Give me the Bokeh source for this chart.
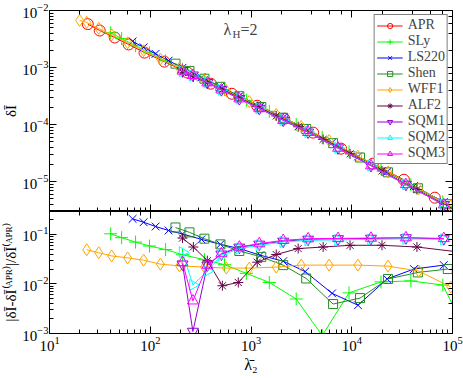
import numpy as np
from bokeh.plotting import figure
from bokeh.layouts import column
from bokeh.models import LogAxis, Legend, LegendItem, Label, CustomJSTickFormatter
from bokeh.embed import file_html
from bokeh.resources import INLINE

# ---------------- data ----------------
apr_lam = [24, 31.5, 44.4, 61.0, 87.7, 138, 234, 398, 646, 1150, 2140, 4140, 7830, 16200, 32900, 66700]
apr_dI = [5.78e-3, 4.46e-3, 3.36e-3, 2.54e-3, 1.83e-3, 1.27e-3, 8.17e-4, 5.22e-4, 3.47e-4, 2.14e-4,
          1.27e-4, 7.24e-5, 3.79e-5, 2.07e-5, 1.08e-5, 5.24e-6]

sly_lam = [40.5, 52.0, 71.5, 98.4, 142, 209, 345, 545, 900, 1520, 2810, 5090, 9400, 19500, 38600, 80100, 120800]
sly_dI = [4.06e-3, 3.22e-3, 2.41e-3, 1.81e-3, 1.31e-3, 9.35e-4, 6.07e-4, 4.11e-4, 2.67e-4, 1.71e-4,
          1.01e-4, 5.96e-5, 3.36e-5, 1.69e-5, 8.87e-6, 4.43e-6, 2.96e-6]
sly_rel = [0.103, 0.086, 0.070, 0.0583, 0.0494, 0.0389, 0.0309, 0.0245, 0.0164, 0.0107,
           0.00497, 0.00091, 0.0066, 0.011, 0.0115, 0.0095, 0.0018]

ls220_lam = [66.8, 85.9, 113, 152, 209, 322, 497, 766, 1236, 2088, 3450, 6380, 11540, 22400, 41400, 82000]
ls220_dI = [2.88e-3, 2.26e-3, 1.74e-3, 1.32e-3, 9.91e-4, 6.73e-4, 4.61e-4, 3.16e-4, 2.08e-4, 1.33e-4,
            8.61e-5, 4.84e-5, 2.76e-5, 1.49e-5, 8.39e-6, 4.40e-6]
ls220_rel = [0.206, 0.176, 0.1445, 0.120, 0.102, 0.0794, 0.0631, 0.0518, 0.038, 0.0288,
             0.0178, 0.00646, 0.00372, 0.0126, 0.020, 0.024]

shen_lam = [178, 245, 345, 497, 766, 1265, 2088, 3530, 6530, 12080, 22870, 45300, 89800]
shen_dI = [1.17e-3, 8.73e-4, 6.37e-4, 4.60e-4, 3.15e-4, 2.04e-4, 1.32e-4, 8.39e-5, 4.73e-5, 2.65e-5,
           1.46e-5, 7.68e-6, 4.02e-6]
shen_rel = [0.138, 0.110, 0.082, 0.063, 0.0463, 0.0352, 0.024, 0.0129, 0.00393, 0.00518,
            0.0126, 0.0171, 0.020]

wff1_lam = [19.9, 23.4, 30.8, 41.4, 59.6, 85.9, 126, 195, 345, 569, 962, 1780, 3150, 5960, 11500, 22900, 46300, 96100]
wff1_dI = [6.7e-3, 6.19e-3, 4.86e-3, 3.74e-3, 2.72e-3, 1.98e-3, 1.41e-3, 9.75e-4, 6.01e-4, 3.94e-4,
           2.54e-4, 1.51e-4, 9.34e-5, 5.26e-5, 2.81e-5, 1.48e-5, 7.53e-6, 3.72e-6]
wff1_rel_lam = [23.4, 30.8, 41.4, 59.6, 85.9, 126, 195, 345, 569, 962, 1780, 3150, 5960, 11500, 22900, 46300, 96100]
wff1_rel = [0.049, 0.0427, 0.0368, 0.0336, 0.0302, 0.0251, 0.0232, 0.0219, 0.0209, 0.0209,
            0.0219, 0.024, 0.024, 0.024, 0.0229, 0.0182, 0.0087]

alf2_lam = [209, 268, 369, 520, 748, 1153, 1780, 2940, 5200, 9620, 19950, 44360, 120800]
alf2_dI = [8.24e-4, 6.87e-4, 5.41e-4, 4.13e-4, 3.03e-4, 2.07e-4, 1.42e-4, 9.18e-5, 5.51e-5, 3.07e-5,
           1.54e-5, 7.28e-6, 2.83e-6]
alf2_rel = [0.0843, 0.0557, 0.0295, 0.0092, 0.0107, 0.0275, 0.0393, 0.0518, 0.0557, 0.0603,
            0.0603, 0.0557, 0.0437]

sqm_lam = [209, 265, 369, 508, 766, 1208, 2088, 3690, 7310, 15520, 34500, 82000]
sqm1_dI = [8.77e-4, 7.35e-4, 5.44e-4, 4.07e-4, 2.84e-4, 1.92e-4, 1.19e-4, 7.35e-5, 3.89e-5, 1.91e-5, 8.93e-6, 3.94e-6]
sqm1_rel = [0.0251, 0.0011, 0.024, 0.0398, 0.055, 0.0631, 0.0724, 0.0794, 0.0813, 0.083, 0.085, 0.0813]
sqm2_dI = [8.61e-4, 7.28e-4, 5.47e-4, 4.08e-4, 2.85e-4, 1.92e-4, 1.20e-4, 7.38e-5, 3.91e-5, 1.91e-5, 8.97e-6, 3.95e-6]
sqm2_rel = [0.0437, 0.00955, 0.0182, 0.038, 0.0518, 0.0603, 0.0702, 0.0759, 0.0776, 0.0794, 0.0813, 0.0794]
sqm3_dI = [8.75e-4, 7.31e-4, 5.44e-4, 4.07e-4, 2.84e-4, 1.91e-4, 1.19e-4, 7.33e-5, 3.88e-5, 1.91e-5, 8.93e-6, 3.94e-6]
sqm3_rel = [0.0272, 0.00457, 0.024, 0.0411, 0.0557, 0.0652, 0.0759, 0.082, 0.083, 0.0843, 0.0859, 0.083]

FONT = "Liberation Serif"
Y1_LABEL = "δĪ"
Y2_LABEL = "|δĪ-δĪ\u207d\u1d2c\u1d3e\u1d3f\u207e|/δĪ\u207d\u1d2c\u1d3e\u1d3f\u207e"
X_LABEL = "λ\u0304\u2082"

series = [
    ("APR", "#ff0000", "circle", 11, 0, apr_lam, apr_dI, None, None),
    ("SLy", "#00ff00", "cross", 13, 0, sly_lam, sly_dI, sly_lam, sly_rel),
    ("LS220", "#0000ff", "x", 11, 0, ls220_lam, ls220_dI, ls220_lam, ls220_rel),
    ("Shen", "#1f8f1f", "square", 9, 0, shen_lam, shen_dI, shen_lam, shen_rel),
    ("WFF1", "#ffa500", "diamond", 12, 0, wff1_lam, wff1_dI, wff1_rel_lam, wff1_rel),
    ("ALF2", "#670748", "asterisk", 10, 0, alf2_lam, alf2_dI, alf2_lam, alf2_rel),
    ("SQM1", "#9400d3", "inverted_triangle", 11, 0, sqm_lam, sqm1_dI, sqm_lam, sqm1_rel),
    ("SQM2", "#00ffff", "triangle", 11, -np.pi / 2, sqm_lam, sqm2_dI, sqm_lam, sqm2_rel),
    ("SQM3", "#ff00ff", "triangle", 11, 0, sqm_lam, sqm3_dI, sqm_lam, sqm3_rel),
]


def style_axis(ax, labels):
    ax.major_tick_in = 7
    ax.major_tick_out = 0
    ax.minor_tick_in = 4
    ax.minor_tick_out = 0
    ax.axis_line_color = "black"
    ax.major_tick_line_color = "black"
    ax.minor_tick_line_color = "black"
    ax.major_label_text_font = FONT
    ax.major_label_text_color = "black"
    ax.major_label_text_font_size = "15px"
    ax.axis_label_text_font = FONT
    ax.axis_label_text_font_style = "normal"
    ax.axis_label_text_color = "black"
    if labels:
        ax.major_label_standoff = 1
    else:
        ax.formatter = CustomJSTickFormatter(code="return ''")
        ax.major_label_standoff = 0


W = 463
p1 = figure(width=W, height=211, x_axis_type="log", y_axis_type="log",
            x_range=(10, 1e5), y_range=(3e-6, 1e-2),
            toolbar_location=None, output_backend="svg",
            min_border_left=48, min_border_right=11, min_border_top=10, min_border_bottom=0)
p2 = figure(width=W, height=165, x_axis_type="log", y_axis_type="log",
            x_range=p1.x_range, y_range=(1e-3, 0.29),
            toolbar_location=None, output_backend="svg",
            min_border_left=48, min_border_right=11, min_border_top=0, min_border_bottom=43)

for p in (p1, p2):
    p.grid.visible = False
    p.outline_line_color = "black"
    p.background_fill_color = "white"
    p.border_fill_color = "white"
    p.add_layout(LogAxis(), "above")
    p.add_layout(LogAxis(), "right")

for ax in p1.above + p1.below + p1.right:
    style_axis(ax, False)
style_axis(p1.left[0], True)
p1.left[0].axis_label = Y1_LABEL
p1.left[0].axis_label_text_font_size = "15px"
p1.left[0].axis_label_standoff = 0

for ax in p2.above + p2.right:
    style_axis(ax, False)
style_axis(p2.left[0], True)
p2.left[0].axis_label = Y2_LABEL
p2.left[0].axis_label_text_font_size = "15px"
p2.left[0].axis_label_standoff = 0
style_axis(p2.below[0], True)
p2.below[0].major_label_standoff = 3
p2.below[0].axis_label = X_LABEL
p2.below[0].axis_label_text_font_size = "16px"
p2.below[0].axis_label_standoff = 2

items = []
for name, col, mk, sz, ang, lam, dI, rlam, rel in series:
    lr = p1.line(lam, dI, line_color=col, line_width=1)
    sr = p1.scatter(lam, dI, marker=mk, size=sz, angle=ang, line_color=col,
                    fill_color=None, line_width=1)
    items.append(LegendItem(label=name, renderers=[lr, sr]))
    if rel is not None:
        p2.line(rlam, rel, line_color=col, line_width=1)
        p2.scatter(rlam, rel, marker=mk, size=sz, angle=ang, line_color=col,
                   fill_color=None, line_width=1)

legend = Legend(items=items, location="top_right")
legend.label_text_font = FONT
legend.label_text_font_size = "14px"
legend.label_height = 13
legend.glyph_height = 13
legend.glyph_width = 26
legend.label_standoff = 5
legend.spacing = -2
legend.padding = 2
legend.margin = 4
legend.border_line_color = "black"
legend.border_line_width = 1
legend.background_fill_alpha = 1
p1.add_layout(legend, "center")

p1.add_layout(Label(x=174, y=182, x_units="screen", y_units="screen", text="λ",
                    text_font=FONT, text_font_size="16px", text_baseline="alphabetic"))
p1.add_layout(Label(x=183, y=178, x_units="screen", y_units="screen", text="H",
                    text_font=FONT, text_font_size="11px", text_baseline="alphabetic"))
p1.add_layout(Label(x=191, y=182, x_units="screen", y_units="screen", text="=2",
                    text_font=FONT, text_font_size="16px", text_baseline="alphabetic"))

layout = column(p1, p2, spacing=0)
open("out.html", "w").write(file_html(layout, INLINE))
